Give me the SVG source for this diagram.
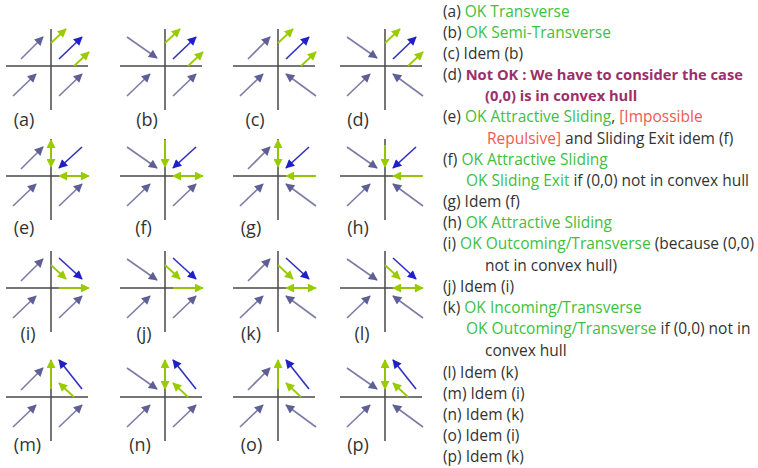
<svg xmlns="http://www.w3.org/2000/svg" width="758" height="468" viewBox="0 0 758 468">
<style>
.ax{stroke:#4a4a4a;stroke-width:1.5;fill:none}
.p{stroke:#7c7ca6;stroke-width:1.6;fill:none;marker-end:url(#hp)}
.b{stroke:#3030c0;stroke-width:1.6;fill:none;marker-end:url(#hb)}
.g{stroke:#99cc00;stroke-width:1.8;fill:none;marker-end:url(#hg)}
.g2{stroke:#99cc00;stroke-width:1.8;fill:none;marker-end:url(#hg);marker-start:url(#hg)}
.lbl{font-family:"Open Sans","Liberation Sans",sans-serif;font-size:18px;fill:#333;text-anchor:middle}
.t{font-family:"Open Sans","Liberation Sans",sans-serif;font-size:15.5px;fill:#333}
.gr{fill:#40c040}
.rd{fill:#ef5a4f}
.pu{fill:#9c2f6a;font-weight:bold;font-size:14.7px}
</style>
<defs>
<marker id="hp" viewBox="0 0 10 10" refX="9" refY="5" markerUnits="userSpaceOnUse" markerWidth="10" markerHeight="9" orient="auto-start-reverse"><path d="M0,0 L10,5 L0,10 z" fill="#5f5f96"/></marker>
<marker id="hb" viewBox="0 0 10 10" refX="9" refY="5" markerUnits="userSpaceOnUse" markerWidth="10" markerHeight="9" orient="auto-start-reverse"><path d="M0,0 L10,5 L0,10 z" fill="#2020c8"/></marker>
<marker id="hg" viewBox="0 0 10 10" refX="9" refY="5" markerUnits="userSpaceOnUse" markerWidth="10" markerHeight="9" orient="auto-start-reverse"><path d="M0,0 L10,5 L0,10 z" fill="#99cc00"/></marker>
<path id="axes" class="ax" d="M-45,0 H37 M0,-37 V44"/>
<path id="ULne" class="p" d="M-30,-7 L-8,-29"/>
<path id="ULse" class="p" d="M-38,-29 L-8,-8"/>
<path id="LL" class="p" d="M-38,30 L-15,8"/>
<path id="LRne" class="p" d="M8,30 L31,8"/>
<path id="LRnw" class="p" d="M38,30 L8,8"/>
</defs>

<!-- Row 1 -->
<g id="panel-a" transform="translate(51,66)">
<use href="#axes"/><use href="#ULne"/><use href="#LL"/><use href="#LRne"/>
<path class="g" d="M0,-23 L15,-37"/><path class="b" d="M8,-7 L31,-29"/><path class="g" d="M23,0 L38,-14"/>
</g>
<g id="panel-b" transform="translate(165,66)">
<use href="#axes"/><use href="#ULse"/><use href="#LL"/><use href="#LRne"/>
<path class="g" d="M0,-23 L15,-37"/><path class="b" d="M8,-7 L31,-29"/><path class="g" d="M23,0 L38,-14"/>
</g>
<g id="panel-c" transform="translate(278,66)">
<use href="#axes"/><use href="#ULne"/><use href="#LL"/><use href="#LRnw"/>
<path class="g" d="M0,-23 L15,-37"/><path class="b" d="M8,-7 L31,-29"/><path class="g" d="M23,0 L38,-14"/>
</g>
<g id="panel-d" transform="translate(385,66)">
<use href="#axes"/><use href="#ULse"/><use href="#LL"/><use href="#LRnw"/>
<path class="g" d="M0,-23 L15,-37"/><path class="b" d="M8,-7 L31,-29"/><path class="g" d="M23,0 L38,-14"/>
</g>

<!-- Row 2 -->
<g id="panel-e" transform="translate(51,176)">
<use href="#axes"/><use href="#ULne"/><use href="#LL"/><use href="#LRne"/>
<path class="g2" d="M0,-36 L0,-9"/><path class="b" d="M31,-29 L8,-8"/><path class="g2" d="M8,0 L38,0"/>
</g>
<g id="panel-f" transform="translate(165,176)">
<use href="#axes"/><use href="#ULse"/><use href="#LL"/><use href="#LRne"/>
<path class="g" d="M0,-36 L0,-9"/><path class="b" d="M31,-29 L8,-8"/><path class="g2" d="M8,0 L38,0"/>
</g>
<g id="panel-g" transform="translate(278,176)">
<use href="#axes"/><use href="#ULne"/><use href="#LL"/><use href="#LRnw"/>
<path class="g2" d="M0,-36 L0,-9"/><path class="b" d="M31,-29 L8,-8"/><path class="g" d="M38,0 L8,0"/>
</g>
<g id="panel-h" transform="translate(385,176)">
<use href="#axes"/><use href="#ULse"/><use href="#LL"/><use href="#LRnw"/>
<path class="g" d="M0,-31 L0,-9"/><path class="b" d="M31,-29 L8,-8"/><path class="g" d="M38,0 L8,0"/>
</g>

<!-- Row 3 -->
<g id="panel-i" transform="translate(51,288)">
<use href="#axes"/><use href="#ULne"/><use href="#LL"/><use href="#LRne"/>
<path class="g" d="M0,-23 L15,-9"/><path class="b" d="M8,-30 L31,-9"/><path class="g" d="M8,0 L38,0"/>
</g>
<g id="panel-j" transform="translate(165,288)">
<use href="#axes"/><use href="#ULse"/><use href="#LL"/><use href="#LRne"/>
<path class="g" d="M0,-23 L15,-9"/><path class="b" d="M8,-30 L31,-9"/><path class="g" d="M8,0 L38,0"/>
</g>
<g id="panel-k" transform="translate(278,288)">
<use href="#axes"/><use href="#ULne"/><use href="#LL"/><use href="#LRnw"/>
<path class="g" d="M0,-23 L15,-9"/><path class="b" d="M8,-30 L31,-9"/><path class="g2" d="M8,0 L38,0"/>
</g>
<g id="panel-l" transform="translate(385,288)">
<use href="#axes"/><use href="#ULse"/><use href="#LL"/><use href="#LRnw"/>
<path class="g" d="M0,-23 L15,-9"/><path class="b" d="M8,-30 L31,-9"/><path class="g2" d="M8,0 L38,0"/>
</g>

<!-- Row 4 -->
<g id="panel-m" transform="translate(51,397)">
<use href="#axes"/><use href="#ULne"/><use href="#LL"/><use href="#LRne"/>
<path class="g" d="M0,-8 L0,-37"/><path class="b" d="M31,-8 L8,-37"/><path class="g" d="M23,0 L8,-14"/>
</g>
<g id="panel-n" transform="translate(165,397)">
<use href="#axes"/><use href="#ULse"/><use href="#LL"/><use href="#LRne"/>
<path class="g2" d="M0,-8 L0,-37"/><path class="b" d="M31,-8 L8,-37"/><path class="g" d="M23,0 L8,-14"/>
</g>
<g id="panel-o" transform="translate(278,397)">
<use href="#axes"/><use href="#ULne"/><use href="#LL"/><use href="#LRnw"/>
<path class="g" d="M0,-8 L0,-37"/><path class="b" d="M31,-8 L8,-37"/><path class="g" d="M23,0 L8,-14"/>
</g>
<g id="panel-p" transform="translate(385,397)">
<use href="#axes"/><use href="#ULse"/><use href="#LL"/><use href="#LRnw"/>
<path class="g2" d="M0,-8 L0,-37"/><path class="b" d="M31,-8 L8,-37"/><path class="g" d="M23,0 L8,-14"/>
</g>

<!-- Panel labels -->
<g id="labels">
<text class="lbl" x="24" y="126">(a)</text>
<text class="lbl" x="147" y="126">(b)</text>
<text class="lbl" x="255" y="126">(c)</text>
<text class="lbl" x="358" y="126">(d)</text>
<text class="lbl" x="24" y="234">(e)</text>
<text class="lbl" x="143.5" y="234">(f)</text>
<text class="lbl" x="251" y="234">(g)</text>
<text class="lbl" x="358" y="234">(h)</text>
<text class="lbl" x="28" y="340">(i)</text>
<text class="lbl" x="144" y="340">(j)</text>
<text class="lbl" x="251" y="340">(k)</text>
<text class="lbl" x="362" y="340">(l)</text>
<text class="lbl" x="27.5" y="451">(m)</text>
<text class="lbl" x="140" y="451">(n)</text>
<text class="lbl" x="251.5" y="451">(o)</text>
<text class="lbl" x="358" y="451">(p)</text>
</g>

<!-- Legend text -->
<g id="legend" class="t">
<text x="443" y="17">(a) <tspan class="gr">OK Transverse</tspan></text>
<text x="443" y="38">(b) <tspan class="gr">OK Semi-Transverse</tspan></text>
<text x="443" y="59">(c) Idem (b)</text>
<text x="443" y="80">(d) <tspan class="pu">Not OK : We have to consider the case</tspan></text>
<text x="485" y="101" class="pu">(0,0) is in convex hull</text>
<text x="443" y="122">(e) <tspan class="gr">OK Attractive Sliding</tspan>, <tspan class="rd">[Impossible</tspan></text>
<text x="487" y="144"><tspan class="rd">Repulsive]</tspan> and Sliding Exit idem (f)</text>
<text x="443" y="165">(f) <tspan class="gr">OK Attractive Sliding</tspan></text>
<text x="466" y="186"><tspan class="gr">OK Sliding Exit</tspan> if (0,0) not in convex hull</text>
<text x="443" y="207">(g) Idem (f)</text>
<text x="443" y="228">(h) <tspan class="gr">OK Attractive Sliding</tspan></text>
<text x="443" y="249">(i) <tspan class="gr">OK Outcoming/Transverse</tspan> (because (0,0)</text>
<text x="485" y="271">not in convex hull)</text>
<text x="443" y="292">(j) Idem (i)</text>
<text x="443" y="313">(k) <tspan class="gr">OK Incoming/Transverse</tspan></text>
<text x="466" y="334"><tspan class="gr">OK Outcoming/Transverse</tspan> if (0,0) not in</text>
<text x="485" y="356">convex hull</text>
<text x="443" y="378">(l) Idem (k)</text>
<text x="443" y="399">(m) Idem (i)</text>
<text x="443" y="420">(n) Idem (k)</text>
<text x="443" y="441">(o) Idem (i)</text>
<text x="443" y="462">(p) Idem (k)</text>
</g>
</svg>
